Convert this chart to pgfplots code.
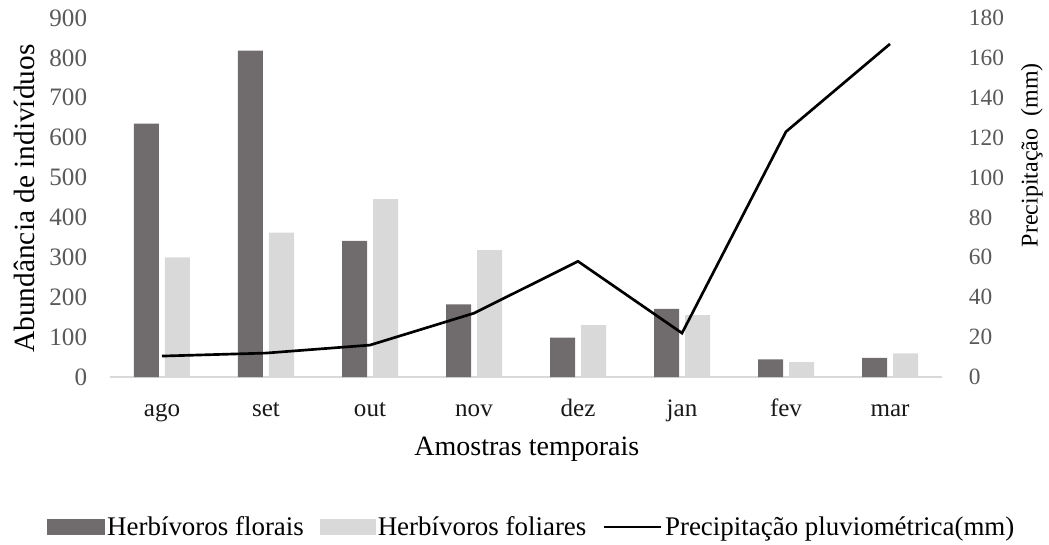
\documentclass[border=0pt]{standalone}
\usepackage{fontspec}
\setmainfont{Liberation Serif}
\usepackage{pgfplots}
\usepackage{pgfplotstable}
\pgfplotsset{compat=1.18}

\definecolor{florais}{HTML}{706C6D}
\definecolor{foliares}{HTML}{D9D9D9}
\definecolor{tickgray}{HTML}{595959}

% mes: 0=ago ... 7=mar
\pgfplotstableread{
mes florais foliares prec
0   635     300      10.5
1   818     362      12
2   341     446      16
3   182     318      32
4    99     130      58
5   171     155      22
6    44      37     123
7    48      59     167
}\dados

\begin{document}
\begin{tikzpicture}
\useasboundingbox (-82.5pt,-125.25pt) rectangle (704.25pt,282.75pt);

\begin{axis}[
  scale only axis,
  width=624pt, height=269.25pt,
  xmin=-0.5, xmax=7.5,
  ymin=0, ymax=900,
  xtick={0,...,7},
  xticklabels={ago,set,out,nov,dez,jan,fev,mar},
  ytick={0,100,...,900},
  axis x line*=bottom,
  axis y line*=left,
  y axis line style={draw=none},
  x axis line style={draw=foliares, line width=1pt},
  major tick length=0pt,
  /pgf/number format/assume math mode=true,
  ticklabel style={font=\fontsize{18.8}{20}\selectfont},
  yticklabel style={text=tickgray, inner sep=0pt, anchor=east, xshift=-17pt},
  xticklabel style={text=black!90, anchor=base, yshift=-29.25pt},
  xlabel={Amostras temporais},
  xlabel style={font=\fontsize{21}{24}\selectfont, at={(axis description cs:0.501,0)}, anchor=base, yshift=-58.5pt},
  ylabel={Abundância de indivíduos},
  ylabel style={font=\fontsize{22}{24}\selectfont, at={(axis description cs:-0.103,0.497)}, anchor=center},
  ybar=4.5pt,
  bar width=18.75pt,
]
\addplot[fill=florais, draw=none] table[x=mes, y=florais] {\dados};
\addplot[fill=foliares, draw=none] table[x=mes, y=foliares] {\dados};
\end{axis}

\begin{axis}[
  scale only axis,
  width=624pt, height=269.25pt,
  xmin=-0.5, xmax=7.5,
  ymin=0, ymax=180,
  ytick={0,20,...,180},
  axis x line=none,
  axis y line*=right,
  y axis line style={draw=none},
  major tick length=0pt,
  /pgf/number format/assume math mode=true,
  yticklabel style={font=\fontsize{17.5}{20}\selectfont, text=tickgray, inner sep=0pt, anchor=west, xshift=20pt},
  ylabel={Precipitação~~(mm)},
  ylabel style={font=\fontsize{18}{20}\selectfont, at={(axis description cs:1.108,0.618)}, anchor=center, rotate=0},
  legend columns=3,
  legend style={
    draw=none, fill=none,
    at={(axis description cs:0.507,-0.418)}, anchor=center,
    font=\fontsize{20.2}{22}\selectfont,
    /tikz/every even column/.append style={column sep=10pt},
    inner sep=0pt,
  },
  legend cell align=left,
]
\addlegendimage{legend image code/.code={\fill[florais] (0pt,-5.5pt) rectangle (43pt,5.5pt);}}
\addlegendentry{Herbívoros florais}
\addlegendimage{legend image code/.code={\fill[foliares] (0pt,-5.5pt) rectangle (41pt,5.5pt);}}
\addlegendentry{Herbívoros foliares}
\addplot[black, line width=2pt, legend image code/.code={\draw[black, line width=2pt] (0pt,0pt) -- (43pt,0pt);}] table[x=mes, y=prec] {\dados};
\addlegendentry{Precipitação pluviométrica(mm)}
\end{axis}
\end{tikzpicture}
\end{document}
